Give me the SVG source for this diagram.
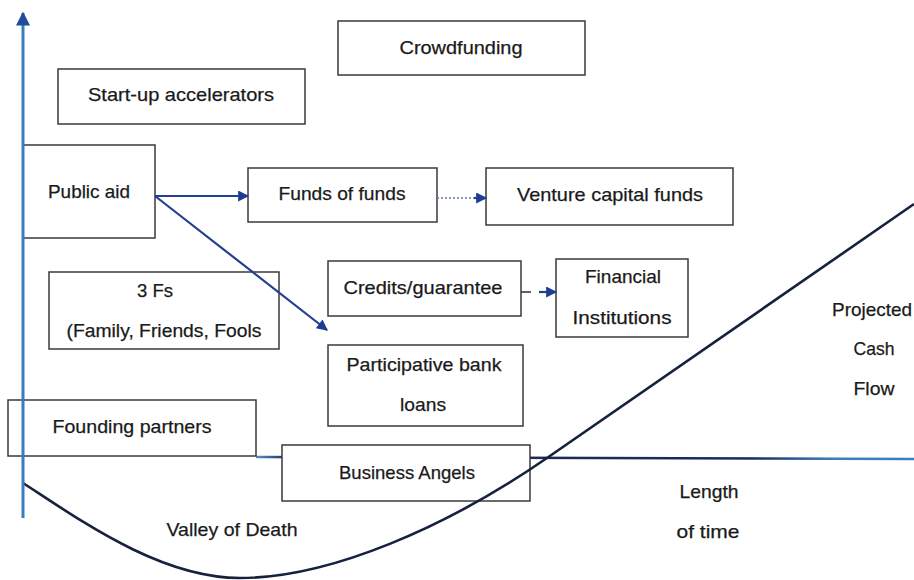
<svg xmlns="http://www.w3.org/2000/svg" width="914" height="580" viewBox="0 0 914 580">
<defs>
<style>
.box{fill:#fff;stroke:#3a3a3a;stroke-width:1.5}
.t{font-family:"Liberation Sans",Arial,sans-serif;font-size:19px;fill:#1a1a1a;text-anchor:middle;stroke:#1a1a1a;stroke-width:0.25}
.conn{stroke:#22408f;stroke-width:2.2;fill:none}
</style>
<marker id="ah" viewBox="0 0 10 10" refX="9" refY="5" markerWidth="13" markerHeight="11" markerUnits="userSpaceOnUse" orient="auto">
<path d="M0,0 L10,5 L0,10 z" fill="#1f3c94"/>
</marker>
<marker id="axh" viewBox="0 0 10 10" refX="9" refY="5" markerWidth="14" markerHeight="15" markerUnits="userSpaceOnUse" orient="auto">
<path d="M0,0 L10,5 L0,10 z" fill="#1f4c9c"/>
</marker>
<linearGradient id="hg" x1="256" y1="0" x2="914" y2="0" gradientUnits="userSpaceOnUse">
<stop offset="0" stop-color="#5a8fc4"/>
<stop offset="0.05" stop-color="#1b2a5a"/>
<stop offset="0.75" stop-color="#1b2a5a"/>
<stop offset="0.88" stop-color="#3a7fc0"/>
<stop offset="1" stop-color="#3a7fc0"/>
</linearGradient>
</defs>

<g id="axis-x">
<line x1="256" y1="457" x2="914" y2="459" stroke="url(#hg)" stroke-width="2.5"/>
</g>

<g id="crowdfunding"><rect class="box" x="338" y="21" width="247" height="54"/><text class="t" x="461" y="54" textLength="123" lengthAdjust="spacingAndGlyphs">Crowdfunding</text></g>
<g id="startup"><rect class="box" x="58" y="69" width="247" height="55"/><text class="t" x="181" y="101" textLength="186" lengthAdjust="spacingAndGlyphs">Start-up accelerators</text></g>
<g id="public-aid"><rect class="box" x="23" y="145" width="132" height="93"/><text class="t" x="89" y="198" textLength="82" lengthAdjust="spacingAndGlyphs">Public aid</text></g>
<g id="funds-of-funds"><rect class="box" x="248" y="168" width="189" height="54"/><text class="t" x="342" y="200" textLength="127" lengthAdjust="spacingAndGlyphs">Funds of funds</text></g>
<g id="vc-funds"><rect class="box" x="486" y="168" width="247" height="57"/><text class="t" x="610" y="201" textLength="186" lengthAdjust="spacingAndGlyphs">Venture capital funds</text></g>
<g id="three-fs"><rect class="box" x="49" y="272" width="230" height="77"/><text class="t" x="155" y="297" textLength="36" lengthAdjust="spacingAndGlyphs">3 Fs</text><text class="t" x="164" y="337" textLength="195" lengthAdjust="spacingAndGlyphs">(Family, Friends, Fools</text></g>
<g id="credits"><rect class="box" x="328" y="261" width="193" height="55"/><text class="t" x="423" y="294" textLength="159" lengthAdjust="spacingAndGlyphs">Credits/guarantee</text></g>
<g id="financial"><rect class="box" x="556" y="259" width="132" height="78"/><text class="t" x="623" y="283" textLength="76" lengthAdjust="spacingAndGlyphs">Financial</text><text class="t" x="622" y="324" textLength="99" lengthAdjust="spacingAndGlyphs">Institutions</text></g>
<g id="participative"><rect class="box" x="328" y="345" width="195" height="81"/><text class="t" x="424" y="371" textLength="155" lengthAdjust="spacingAndGlyphs">Participative bank</text><text class="t" x="423" y="411" textLength="46" lengthAdjust="spacingAndGlyphs">loans</text></g>
<g id="founding"><rect class="box" x="8" y="400" width="248" height="56"/><text class="t" x="132" y="433" textLength="159" lengthAdjust="spacingAndGlyphs">Founding partners</text></g>
<g id="angels"><rect class="box" x="282" y="445" width="248" height="56"/><text class="t" x="407" y="479" textLength="136" lengthAdjust="spacingAndGlyphs">Business Angels</text></g>

<g id="labels">
<text class="t" x="232" y="536" textLength="131" lengthAdjust="spacingAndGlyphs">Valley of Death</text>
<text class="t" x="709" y="498" textLength="59" lengthAdjust="spacingAndGlyphs">Length</text>
<text class="t" x="708" y="538" textLength="63" lengthAdjust="spacingAndGlyphs">of time</text>
<text class="t" x="872" y="316" textLength="80" lengthAdjust="spacingAndGlyphs">Projected</text>
<text class="t" x="874" y="355" textLength="41" lengthAdjust="spacingAndGlyphs">Cash</text>
<text class="t" x="874" y="395" textLength="41" lengthAdjust="spacingAndGlyphs">Flow</text>
</g>

<g id="curve">
<path d="M23,483 C80,520 160,578 240,578 C330,578 447,527 547,458 L914,204" fill="none" stroke="#16213f" stroke-width="2.6"/>
</g>

<g id="axis-y">
<line x1="23" y1="518" x2="23" y2="13" stroke="#3a7dbf" stroke-width="3" marker-end="url(#axh)"/>
</g>

<g id="connectors">
<line class="conn" x1="155" y1="196" x2="248" y2="196" marker-end="url(#ah)"/>
<line class="conn" x1="155" y1="196" x2="327" y2="330" marker-end="url(#ah)"/>
<line x1="437" y1="198" x2="476" y2="198" stroke="#5f78b0" stroke-width="1.6" stroke-dasharray="2,2"/>
<line x1="474" y1="198" x2="486" y2="198" class="conn" marker-end="url(#ah)"/>
<line x1="521" y1="292" x2="531" y2="292" stroke="#3a3a3a" stroke-width="1.6"/>
<line class="conn" x1="539" y1="292" x2="556" y2="292" marker-end="url(#ah)"/>
</g>
</svg>
